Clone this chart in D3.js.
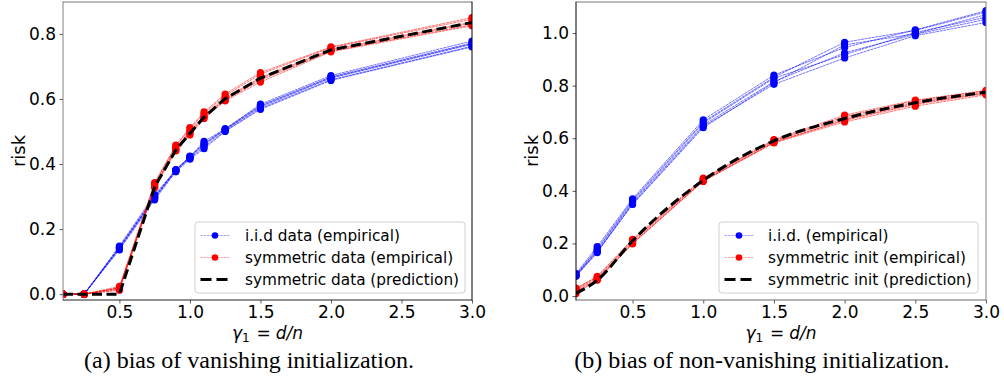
<!DOCTYPE html>
<html>
<head>
<meta charset="utf-8">
<script src="https://cdn.jsdelivr.net/npm/d3@7"></script>
<style>
  html, body { margin: 0; padding: 0; background: #fff; }
  svg { display: block; }
</style>
</head>
<body>
<svg id="fig" width="1004" height="379"></svg>
<script>
// ---- panel (a): vanishing initialization ----
const gammaA = [0.1, 0.25, 0.5, 0.75, 0.9, 1.0, 1.1, 1.25, 1.5, 2.0, 3.0];
const iidRunsA = [
  [0, 0, 0.139, 0.294, 0.378, 0.418, 0.452, 0.502, 0.571, 0.659, 0.762],
  [0, 0, 0.145, 0.301, 0.383, 0.424, 0.463, 0.509, 0.580, 0.668, 0.772],
  [0, 0, 0.148, 0.306, 0.381, 0.421, 0.470, 0.507, 0.584, 0.672, 0.778],
  [0, 0, 0.136, 0.290, 0.376, 0.415, 0.447, 0.500, 0.568, 0.657, 0.760],
  [0, 0, 0.142, 0.298, 0.380, 0.420, 0.458, 0.505, 0.575, 0.664, 0.768],
  [0, 0, 0.143, 0.296, 0.382, 0.423, 0.461, 0.506, 0.578, 0.666, 0.770]
];
const symRunsA = [
  [0, 0, 0.012, 0.328, 0.440, 0.489, 0.540, 0.594, 0.652, 0.745, 0.825],
  [0, 0, 0.020, 0.340, 0.455, 0.508, 0.556, 0.610, 0.676, 0.758, 0.845],
  [0, 0, 0.024, 0.343, 0.458, 0.512, 0.560, 0.615, 0.681, 0.760, 0.850],
  [0, 0, 0.015, 0.330, 0.443, 0.494, 0.543, 0.597, 0.658, 0.747, 0.828],
  [0, 0, 0.018, 0.336, 0.449, 0.501, 0.549, 0.603, 0.666, 0.752, 0.836],
  [0, 0, 0.019, 0.333, 0.446, 0.498, 0.546, 0.600, 0.663, 0.750, 0.833]
];
const symPredA = [0, 0, 0, 0.330, 0.443, 0.494, 0.544, 0.601, 0.664, 0.751, 0.835];
const legendA = ["i.i.d data (empirical)", "symmetric data (empirical)", "symmetric data (prediction)"];
const captionA = "(a) bias of vanishing initialization.";
const yTicksA = [0.0, 0.2, 0.4, 0.6, 0.8];

// ---- panel (b): non-vanishing initialization ----
const gammaB = [0.1, 0.25, 0.5, 1.0, 1.5, 2.0, 2.5, 3.0];
const iidRunsB = [
  [0.075, 0.165, 0.350, 0.645, 0.805, 0.905, 0.990, 1.040],
  [0.082, 0.180, 0.365, 0.662, 0.832, 0.965, 1.010, 1.080],
  [0.078, 0.170, 0.355, 0.650, 0.815, 0.925, 0.995, 1.052],
  [0.085, 0.188, 0.370, 0.670, 0.840, 0.945, 1.012, 1.085],
  [0.080, 0.176, 0.360, 0.658, 0.828, 0.918, 1.002, 1.060],
  [0.077, 0.168, 0.348, 0.640, 0.812, 0.955, 0.997, 1.070]
];
const symRunsB = [
  [0.010, 0.060, 0.198, 0.436, 0.582, 0.662, 0.722, 0.765],
  [0.030, 0.072, 0.212, 0.446, 0.592, 0.682, 0.742, 0.780],
  [0.020, 0.064, 0.203, 0.439, 0.585, 0.668, 0.728, 0.770],
  [0.028, 0.075, 0.216, 0.448, 0.595, 0.688, 0.745, 0.782],
  [0.015, 0.062, 0.200, 0.438, 0.584, 0.670, 0.732, 0.772],
  [0.025, 0.068, 0.208, 0.443, 0.590, 0.676, 0.736, 0.776]
];
const symPredB = [0.010, 0.060, 0.210, 0.440, 0.590, 0.675, 0.735, 0.775];
const legendB = ["i.i.d. (empirical)", "symmetric init (empirical)", "symmetric init (prediction)"];
const captionB = "(b) bias of non-vanishing initialization.";
const yTicksB = [0.0, 0.2, 0.4, 0.6, 0.8, 1.0];

const xTicks = [0.5, 1.0, 1.5, 2.0, 2.5, 3.0];

const BLUE = "#0000ff", RED = "#ff0000";
const SANS = "'DejaVu Sans', sans-serif";
const SERIF = "'Liberation Serif', 'Times New Roman', serif";
const TICK_FONT = 17;

const svg = d3.select("#fig");

function panel(cfg) {
  const x = d3.scaleLinear().domain([0.1, 3.0]).range([cfg.left, cfg.right]);
  const y = d3.scaleLinear().domain(cfg.yDomain).range([cfg.bottom, cfg.top]);
  const g = svg.append("g");

  // clip to the axes box
  const clipId = "clip-" + cfg.id;
  g.append("clipPath").attr("id", clipId).append("rect")
    .attr("x", cfg.left).attr("y", cfg.top)
    .attr("width", cfg.right - cfg.left).attr("height", cfg.bottom - cfg.top);
  const plot = g.append("g").attr("clip-path", `url(#${clipId})`);

  const line = d3.line().x((d, i) => x(cfg.gamma[i])).y(d => y(d));

  function runs(data, color) {
    const grp = plot.append("g");
    data.forEach(run => {
      grp.append("path").attr("d", line(run))
        .attr("fill", "none").attr("stroke", color)
        .attr("stroke-width", 1).attr("stroke-opacity", 0.55)
        .attr("stroke-dasharray", "3,0.6");
    });
    data.forEach(run => {
      grp.selectAll(null).data(run).enter().append("circle")
        .attr("cx", (d, i) => x(cfg.gamma[i])).attr("cy", d => y(d))
        .attr("r", 3.6).attr("fill", color);
    });
  }
  runs(cfg.iid, BLUE);
  runs(cfg.sym, RED);

  plot.append("path")
    .attr("d", d3.line().x((d, i) => x(cfg.gamma[i])).y(d => y(d)).curve(cfg.curve)(cfg.pred))
    .attr("fill", "none").attr("stroke", "#000").attr("stroke-width", 3)
    .attr("stroke-dasharray", "10,4.5");

  // axes
  const xAxis = d3.axisBottom(x).tickValues(xTicks).tickFormat(d3.format(".1f"))
    .tickSize(3.5).tickPadding(2.5);
  const yAxis = d3.axisLeft(y).tickValues(cfg.yTicks).tickFormat(d3.format(".1f"))
    .tickSize(3.5).tickPadding(3.5);
  const gx = g.append("g").attr("transform", `translate(0,${cfg.bottom})`).call(xAxis);
  const gy = g.append("g").attr("transform", `translate(${cfg.left},0)`).call(yAxis);
  [gx, gy].forEach(a => {
    a.select(".domain").remove();
    a.selectAll("line").attr("stroke", "#333").attr("stroke-width", 0.8);
    a.selectAll("text").attr("font-family", SANS).attr("font-size", TICK_FONT).attr("fill", "#000");
  });

  // spines
  const sp = cfg.spines;
  const spine = (x1, y1, x2, y2, c) => g.append("line")
    .attr("x1", x1).attr("y1", y1).attr("x2", x2).attr("y2", y2)
    .attr("stroke", c).attr("stroke-width", 1);
  spine(cfg.left, cfg.top - 0.5, cfg.left, cfg.bottom + 0.5, sp[0]);
  spine(cfg.left, cfg.top, cfg.right, cfg.top, sp[1]);
  spine(cfg.right, cfg.top - 0.5, cfg.right, cfg.bottom + 0.5, sp[2]);
  spine(cfg.left, cfg.bottom, cfg.right, cfg.bottom, sp[3]);

  // axis labels
  g.append("text").attr("transform", `translate(${cfg.ylabelX},${(cfg.top + cfg.bottom) / 2}) rotate(-90)`)
    .attr("text-anchor", "middle").attr("font-family", SANS).attr("font-size", 18)
    .text("risk");
  const xl = g.append("text").attr("x", (cfg.left + cfg.right) / 2).attr("y", 338.5)
    .attr("text-anchor", "middle").attr("font-family", SANS).attr("font-size", 17);
  xl.append("tspan").attr("font-style", "italic").text("γ");
  xl.append("tspan").attr("font-size", 12).attr("dy", 3).text("1");
  xl.append("tspan").attr("dy", -3).attr("dx", 7).text("=");
  xl.append("tspan").attr("dx", 5).attr("font-style", "italic").text("d/n");

  // legend
  const L = cfg.legend;
  const lg = g.append("g");
  lg.append("rect").attr("x", L.x).attr("y", L.y).attr("width", L.w).attr("height", L.h)
    .attr("rx", 3).attr("fill", "#fff").attr("fill-opacity", 0.8)
    .attr("stroke", "#d0d0d0").attr("stroke-width", 1);
  const hx0 = L.x + 5.5, hx1 = L.x + 34.5;
  cfg.labels.forEach((lab, i) => {
    const ry = L.y + 13.5 + i * 22;
    if (i < 2) {
      const c = i === 0 ? BLUE : RED;
      lg.append("line").attr("x1", hx0).attr("x2", hx1).attr("y1", ry).attr("y2", ry)
        .attr("stroke", c).attr("stroke-width", 0.8).attr("stroke-opacity", 0.45)
        .attr("stroke-dasharray", "2.5,0.8");
      lg.append("circle").attr("cx", (hx0 + hx1) / 2).attr("cy", ry).attr("r", 3.3).attr("fill", c);
    } else {
      lg.append("line").attr("x1", hx0).attr("x2", hx1).attr("y1", ry).attr("y2", ry)
        .attr("stroke", "#000").attr("stroke-width", 3).attr("stroke-dasharray", "11,5");
    }
    lg.append("text").attr("x", L.x + L.tx).attr("y", ry).attr("dy", "0.35em")
      .attr("font-family", SANS).attr("font-size", 15.3).text(lab);
  });

  // caption
  svg.append("text").attr("x", cfg.capX).attr("y", 368).attr("text-anchor", "middle")
    .attr("font-family", SERIF).attr("font-size", 24).text(cfg.caption);
}

panel({
  id: "a", left: 63, right: 472, top: 2, bottom: 300,
  yDomain: [-0.018, 0.898], yTicks: yTicksA,
  gamma: gammaA, iid: iidRunsA, sym: symRunsA, pred: symPredA, curve: d3.curveLinear,
  spines: ["#808080", "#777", "#000", "#222"],
  ylabelX: 25,
  legend: { x: 195, y: 222, w: 270, h: 71, tx: 50 },
  labels: legendA, caption: captionA, capX: 249
});

panel({
  id: "b", left: 576, right: 986, top: 2, bottom: 300,
  yDomain: [-0.015, 1.118], yTicks: yTicksB,
  gamma: gammaB, iid: iidRunsB, sym: symRunsB, pred: symPredB, curve: d3.curveMonotoneX,
  spines: ["#000", "#777", "#808080", "#666"],
  ylabelX: 538,
  legend: { x: 719, y: 222, w: 259, h: 71, tx: 49 },
  labels: legendB, caption: captionB, capX: 762
});
</script>
</body>
</html>
